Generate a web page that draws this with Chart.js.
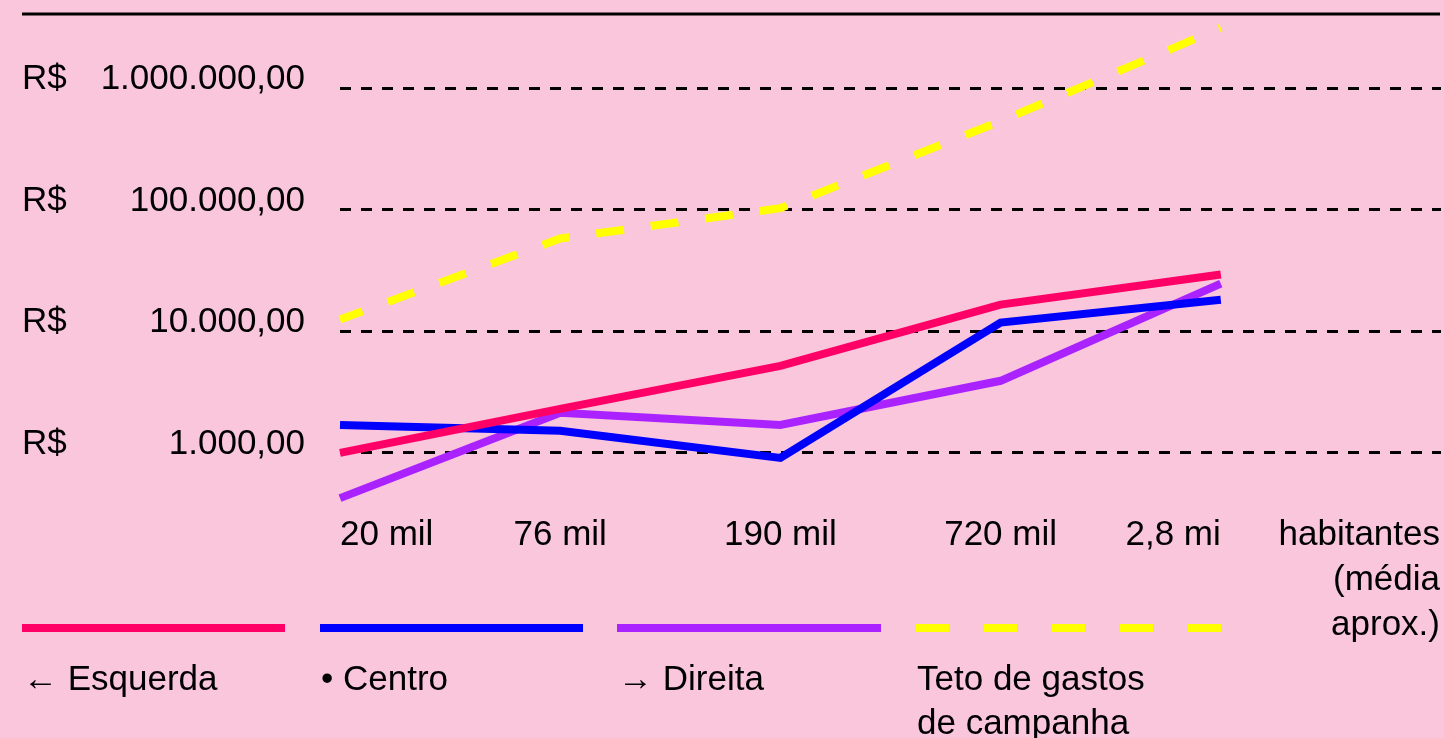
<!DOCTYPE html>
<html>
<head>
<meta charset="utf-8">
<script src="https://cdn.jsdelivr.net/npm/chart.js@4"></script>
<style>
  html, body { margin: 0; padding: 0; background: #f9c6dc; }
  #wrap { width: 1444px; height: 738px; position: relative; }
</style>
</head>
<body>
<div id="wrap"><canvas id="grafico"></canvas></div>
<script>
// tamanho da cidade (média aprox.)
const populacao = ['20 mil', '76 mil', '190 mil', '720 mil', '2,8 mi', 'habitantes'];

// gasto médio por candidato (R$), escala log
const esquerda = [1000, 2300, 5200, 16600, 29300];
const centro = [1700, 1520, 910, 11800, 18200];
const direita = [425, 2140, 1700, 3920, 24700];
const teto = [12500, 58000, 103000, 535000, 3130000];

const marcasY = [1000, 10000, 100000, 1000000];
const rotulosY = ['1.000,00', '10.000,00', '100.000,00', '1.000.000,00'];
const legendas = ['← Esquerda', '• Centro', '→ Direita', 'Teto de gastos\nde campanha'];

// fonte estreita se existir, senão a normal menor
let fonte = '42px "Liberation Sans Narrow"';
const teste = document.createElement('canvas').getContext('2d');
teste.font = '42px "Liberation Sans Narrow", monospace';
const w1 = teste.measureText('habitantes').width;
teste.font = '42px monospace';
if (Math.abs(w1 - teste.measureText('habitantes').width) < 1) fonte = '35px "Liberation Sans", Arial, sans-serif';

const textos = {
    id: 'textos',
    afterDraw(chart) {
        const ctx = chart.ctx;
        const x = chart.scales.x;
        const y = chart.scales.y;
        ctx.save();

        // linha do topo
        ctx.strokeStyle = '#000';
        ctx.lineWidth = 3;
        ctx.beginPath();
        ctx.moveTo(22, 14);
        ctx.lineTo(1440, 14);
        ctx.stroke();

        ctx.fillStyle = '#000';
        ctx.font = fonte;
        ctx.textBaseline = 'alphabetic';

        // rótulos do eixo y
        marcasY.forEach((v, i) => {
            const py = y.getPixelForValue(v) + 1;
            ctx.textAlign = 'left';
            ctx.fillText('R$', 22, py);
            ctx.textAlign = 'right';
            ctx.fillText(rotulosY[i], 305, py);
        });

        // rótulos do eixo x
        populacao.forEach((p, i) => {
            let px = x.getPixelForValue(i);
            if (i == 0) ctx.textAlign = 'left';
            else if (i >= populacao.length - 2) ctx.textAlign = 'right';
            else ctx.textAlign = 'center';
            if (i == populacao.length - 1) {
                px = 1440;
                [p, '(média', 'aprox.)'].forEach((t, k) => ctx.fillText(t, px, 545 + k * 45));
            } else {
                ctx.fillText(p, px, 545);
            }
        });

        // legenda
        const inicio = [22, 320, 617, 916];
        const fim = [285, 583, 881, 1222];
        chart.data.datasets.forEach((ds, i) => {
            ctx.strokeStyle = ds.borderColor;
            ctx.lineWidth = 8;
            ctx.setLineDash(i == 3 ? [33, 35] : []);
            ctx.beginPath();
            ctx.moveTo(inicio[i], 628);
            ctx.lineTo(fim[i], 628);
            ctx.stroke();
            ctx.setLineDash([]);
            ctx.textAlign = 'left';
            legendas[i].split('\n').forEach((t, k) => ctx.fillText(t, inicio[i] + 1, 690 + k * 44));
        });

        ctx.restore();
    }
};

new Chart(document.getElementById('grafico'), {
    type: 'line',
    data: {
        labels: populacao,
        datasets: [
            { label: 'Esquerda', data: esquerda, borderColor: '#ff0066', borderWidth: 8 },
            { label: 'Centro', data: centro, borderColor: '#0000ff', borderWidth: 8 },
            { label: 'Direita', data: direita, borderColor: '#aa22ff', borderWidth: 8 },
            { label: 'Teto de gastos de campanha', data: teto, borderColor: '#ffff00', borderWidth: 8, borderDash: [28, 27], borderDashOffset: 4 }
        ]
    },
    options: {
        responsive: true,
        maintainAspectRatio: false,
        animation: false,
        devicePixelRatio: 1,
        layout: { padding: { left: 340, right: 3, top: 14, bottom: 224 } },
        elements: {
            point: { radius: 0 },
            line: { tension: 0, borderCapStyle: 'butt', borderJoinStyle: 'miter' }
        },
        plugins: {
            legend: { display: false },
            tooltip: { enabled: false }
        },
        scales: {
            x: {
                type: 'category',
                offset: false,
                ticks: { display: false },
                grid: { display: false },
                border: { display: false }
            },
            y: {
                type: 'logarithmic',
                min: 366,
                max: 4074000,
                afterBuildTicks: (s) => { s.ticks = marcasY.map(v => ({ value: v })); },
                ticks: { display: false },
                grid: { color: '#000', lineWidth: 3, drawTicks: false },
                border: { display: false, dash: [11, 10] }
            }
        }
    },
    plugins: [textos]
});
</script>
</body>
</html>
